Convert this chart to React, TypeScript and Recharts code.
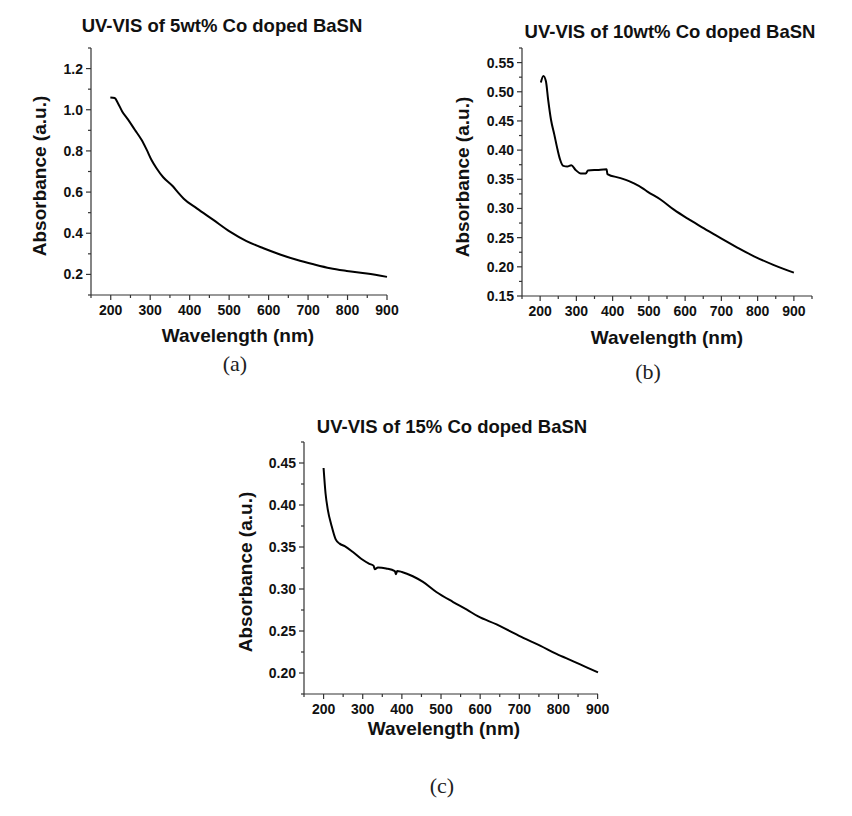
import React from "react";
import { LineChart, Line, XAxis, YAxis } from "recharts";

// Panel (a): 5wt% Co doped BaSN
const waveA = [199, 210, 218, 229, 244, 261, 278, 291, 303, 316, 333, 358, 372, 385, 418, 460, 502, 544, 587, 629, 671, 714, 756, 798, 849, 900];
const absA = [1.06, 1.057, 1.033, 0.992, 0.952, 0.903, 0.854, 0.806, 0.757, 0.716, 0.672, 0.627, 0.595, 0.568, 0.521, 0.465, 0.408, 0.362, 0.327, 0.297, 0.271, 0.249, 0.23, 0.217, 0.204, 0.188];

// Panel (b): 10wt% Co doped BaSN
const waveB = [202, 209, 216, 222, 230, 239, 248, 255, 264, 275, 286, 298, 312, 326, 332, 358, 383.5, 385.5, 422, 459, 482, 496, 533, 569, 606, 652, 698, 744, 790, 845, 900];
const absB = [0.516, 0.527, 0.518, 0.487, 0.452, 0.427, 0.401, 0.384, 0.373, 0.372, 0.374, 0.366, 0.36, 0.36, 0.365, 0.366, 0.367, 0.359, 0.352, 0.343, 0.335, 0.329, 0.315, 0.298, 0.283, 0.266, 0.249, 0.233, 0.218, 0.203, 0.19];

// Panel (c): 15% Co doped BaSN
const waveC = [200, 205, 211, 220, 231, 241, 254, 275, 296, 317, 328, 330.5, 339, 360, 382, 385, 388, 400, 428, 454, 488, 531, 566, 595, 642, 676, 710, 753, 795, 838, 872, 901];
const absC = [0.444, 0.414, 0.394, 0.376, 0.359, 0.354, 0.351, 0.344, 0.336, 0.33, 0.3275, 0.3236, 0.3256, 0.3244, 0.3212, 0.3176, 0.3215, 0.3203, 0.3152, 0.3084, 0.2964, 0.2845, 0.2754, 0.2673, 0.2578, 0.2498, 0.2419, 0.2327, 0.2227, 0.2139, 0.2067, 0.2007];

// ticks (majors get labels, the rest are minor marks)
const xTicksA = [150, 200, 250, 300, 350, 400, 450, 500, 550, 600, 650, 700, 750, 800, 850, 900];
const xTicksB = [150, 200, 250, 300, 350, 400, 450, 500, 550, 600, 650, 700, 750, 800, 850, 900, 950];
const xMajors = [200, 300, 400, 500, 600, 700, 800, 900];
const yTicksA = [0.1, 0.2, 0.3, 0.4, 0.5, 0.6, 0.7, 0.8, 0.9, 1.0, 1.1, 1.2, 1.3];
const yMajorsA = [0.2, 0.4, 0.6, 0.8, 1.0, 1.2];
const yTicksB = [0.15, 0.175, 0.2, 0.225, 0.25, 0.275, 0.3, 0.325, 0.35, 0.375, 0.4, 0.425, 0.45, 0.475, 0.5, 0.525, 0.55, 0.575];
const yMajorsB = [0.15, 0.2, 0.25, 0.3, 0.35, 0.4, 0.45, 0.5, 0.55];
const yTicksC = [0.175, 0.2, 0.225, 0.25, 0.275, 0.3, 0.325, 0.35, 0.375, 0.4, 0.425, 0.45, 0.475];
const yMajorsC = [0.2, 0.25, 0.3, 0.35, 0.4, 0.45];

const SANS = "'Liberation Sans', Arial, sans-serif";
const SERIF = "'Liberation Serif', 'Times New Roman', serif";
const AXIS = "#333";

const isMajor = (v: number, majors: number[]) => majors.some((m) => Math.abs(m - v) < 1e-6);

function makeYTick(majors: number[], digits: number) {
  return (props: any) => {
    const { x, y, payload } = props;
    const major = isMajor(payload.value, majors);
    return (
      <g>
        <line x1={x} y1={y} x2={x - (major ? 5 : 3)} y2={y} stroke={AXIS} strokeWidth={1.2} />
        {major && (
          <text x={x - 8} y={y + 5} textAnchor="end" fontFamily={SANS} fontWeight="bold" fontSize={14} fill="#111">
            {payload.value.toFixed(digits)}
          </text>
        )}
      </g>
    );
  };
}

function makeXTick(majors: number[]) {
  return (props: any) => {
    const { x, y, payload } = props;
    const major = isMajor(payload.value, majors);
    return (
      <g>
        <line x1={x} y1={y} x2={x} y2={y + (major ? 5 : 3)} stroke={AXIS} strokeWidth={1.2} />
        {major && (
          <text x={x} y={y + 20} textAnchor="middle" fontFamily={SANS} fontWeight="bold" fontSize={14} fill="#111">
            {payload.value}
          </text>
        )}
      </g>
    );
  };
}

type PanelProps = {
  left: number;
  top: number;
  width: number;
  height: number;
  margin: { top: number; right: number; bottom: number; left: number };
  wave: number[];
  abs: number[];
  xDomain: [number, number];
  xTicks: number[];
  yDomain: [number, number];
  yTicks: number[];
  yMajors: number[];
  digits: number;
};

function Panel(p: PanelProps) {
  const data = p.wave.map((w, i) => ({ w, a: p.abs[i] }));
  return (
    <div style={{ position: "absolute", left: p.left, top: p.top }}>
      <LineChart width={p.width} height={p.height} data={data} margin={p.margin}>
        <XAxis
          type="number"
          dataKey="w"
          domain={p.xDomain}
          ticks={p.xTicks}
          interval={0}
          height={30}
          tickSize={0}
          tickMargin={0}
          tickLine={false}
          axisLine={{ stroke: AXIS, strokeWidth: 1.2 }}
          tick={makeXTick(xMajors)}
        />
        <YAxis
          type="number"
          domain={p.yDomain}
          ticks={p.yTicks}
          interval={0}
          width={60}
          tickSize={0}
          tickMargin={0}
          tickLine={false}
          axisLine={{ stroke: AXIS, strokeWidth: 1.2 }}
          tick={makeYTick(p.yMajors, p.digits)}
        />
        <Line type="monotone" dataKey="a" stroke="#000" strokeWidth={2} dot={false} isAnimationActive={false} />
      </LineChart>
    </div>
  );
}

const titleStyle = { fontFamily: SANS, fontWeight: "bold" as const, fontSize: 18.5, fill: "#111" };
const axisTitleStyle = { fontFamily: SANS, fontWeight: "bold" as const, fontSize: 19, fill: "#111" };
const captionStyle = { fontFamily: SERIF, fontSize: 22, fill: "#222" };

export default function App() {
  return (
    <div style={{ position: "absolute", left: 0, top: 0, width: 852, height: 816, background: "#fff" }}>
      <Panel
        left={0} top={0} width={420} height={390}
        margin={{ top: 48, right: 33, bottom: 65, left: 31 }}
        wave={waveA} abs={absA}
        xDomain={[150, 900]} xTicks={xTicksA}
        yDomain={[0.1, 1.3]} yTicks={yTicksA} yMajors={yMajorsA} digits={1}
      />
      <Panel
        left={420} top={0} width={432} height={390}
        margin={{ top: 48, right: 40, bottom: 64, left: 42 }}
        wave={waveB} abs={absB}
        xDomain={[150, 950]} xTicks={xTicksB}
        yDomain={[0.15, 0.575]} yTicks={yTicksB} yMajors={yMajorsB} digits={2}
      />
      <Panel
        left={200} top={400} width={440} height={416}
        margin={{ top: 42, right: 42, bottom: 92, left: 44 }}
        wave={waveC} abs={absC}
        xDomain={[150, 900]} xTicks={xTicksA}
        yDomain={[0.175, 0.475]} yTicks={yTicksC} yMajors={yMajorsC} digits={2}
      />
      <svg width={852} height={816} style={{ position: "absolute", left: 0, top: 0, pointerEvents: "none" }}>
        <text x={222} y={32} textAnchor="middle" {...titleStyle}>UV-VIS of 5wt% Co doped BaSN</text>
        <text x={670} y={38} textAnchor="middle" {...titleStyle}>UV-VIS of 10wt% Co doped BaSN</text>
        <text x={452} y={433} textAnchor="middle" {...titleStyle}>UV-VIS of 15% Co doped BaSN</text>

        <text x={238} y={342} textAnchor="middle" {...axisTitleStyle}>Wavelength (nm)</text>
        <text x={667} y={344} textAnchor="middle" {...axisTitleStyle}>Wavelength (nm)</text>
        <text x={444} y={735} textAnchor="middle" {...axisTitleStyle}>Wavelength (nm)</text>

        <text transform="translate(46,176) rotate(-90)" textAnchor="middle" {...axisTitleStyle}>Absorbance (a.u.)</text>
        <text transform="translate(469,177) rotate(-90)" textAnchor="middle" {...axisTitleStyle}>Absorbance (a.u.)</text>
        <text transform="translate(252,572) rotate(-90)" textAnchor="middle" {...axisTitleStyle}>Absorbance (a.u.)</text>

        <text x={235} y={371} textAnchor="middle" {...captionStyle}>(a)</text>
        <text x={648} y={379} textAnchor="middle" {...captionStyle}>(b)</text>
        <text x={442} y={793} textAnchor="middle" {...captionStyle}>(c)</text>
      </svg>
    </div>
  );
}
